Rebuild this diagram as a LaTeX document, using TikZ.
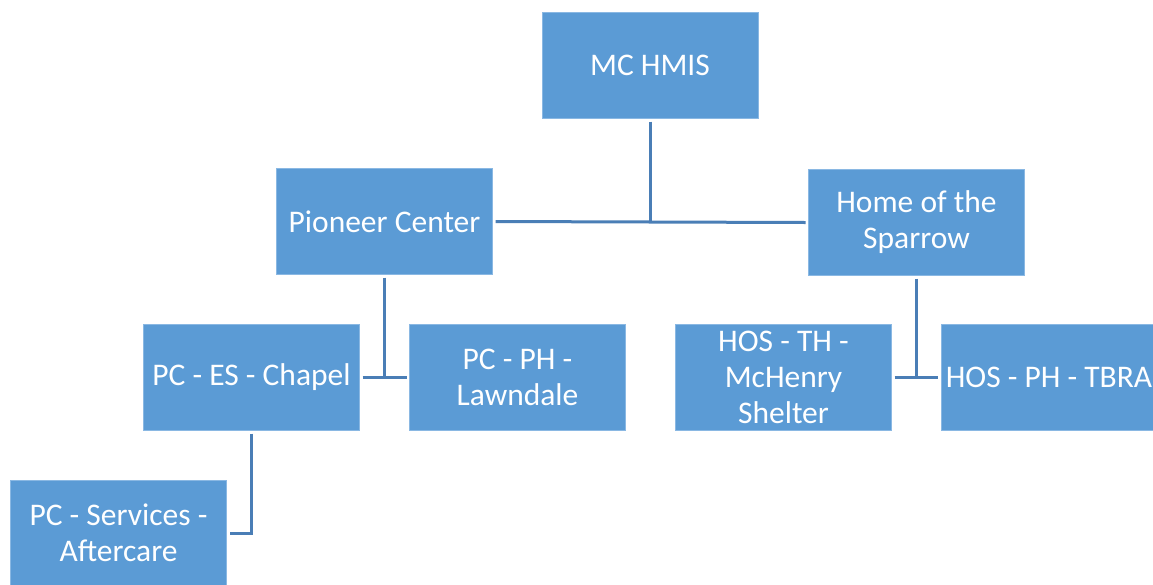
\documentclass[tikz,border=0pt]{standalone}
\usepackage{fontspec}
\setmainfont{Carlito}
\definecolor{boxfill}{HTML}{5B9BD5}
\definecolor{boxedge}{HTML}{8AB8E3}
\definecolor{conncol}{HTML}{4A7EB6}
\begin{document}
\begin{tikzpicture}[x=1pt,y=-1pt,
  orgbox/.style={rectangle, fill=boxfill, draw=boxedge, line width=0.8pt,
    minimum width=216pt, minimum height=106pt, inner sep=0pt, outer sep=3pt,
    align=center, text=white, font=\fontsize{31.5}{36}\selectfont},
  conn/.style={draw=conncol, line width=3pt}]
\useasboundingbox (0,0) rectangle (1153,584);
\clip (0,0) rectangle (1153,584);
\fill[white] (0,0) rectangle (1153,584);
\node[orgbox] (mc) at (650,65.5) {MC HMIS};
\node[orgbox] (pc) at (384.5,221.5) {Pioneer Center};
\node[orgbox] (hos) at (916.5,222.5) {Home of the\\Sparrow};
\node[orgbox] (chapel) at (251.5,377.5) {PC - ES - Chapel};
\node[orgbox] (lawn) at (517.5,377.5) {PC - PH -\\Lawndale};
\node[orgbox] (hth) at (783.5,377.5) {HOS - TH -\\McHenry\\Shelter};
\node[orgbox] (tbra) at (1049,377.5) {HOS - PH - TBRA};
\node[orgbox] (after) at (118.5,533) {PC - Services -\\Aftercare};
\draw[conn] (mc.south) -- (mc.south |- pc.east);
\draw[conn] (pc.east) -- (hos.west);
\draw[conn] (pc.south) -- (pc.south |- chapel.east);
\draw[conn] (chapel.east) -- (lawn.west);
\draw[conn] (hos.south) -- (hos.south |- hth.east);
\draw[conn] (hth.east) -- (tbra.west);
\draw[conn] (chapel.south) |- (after.east);
\end{tikzpicture}
\end{document}
